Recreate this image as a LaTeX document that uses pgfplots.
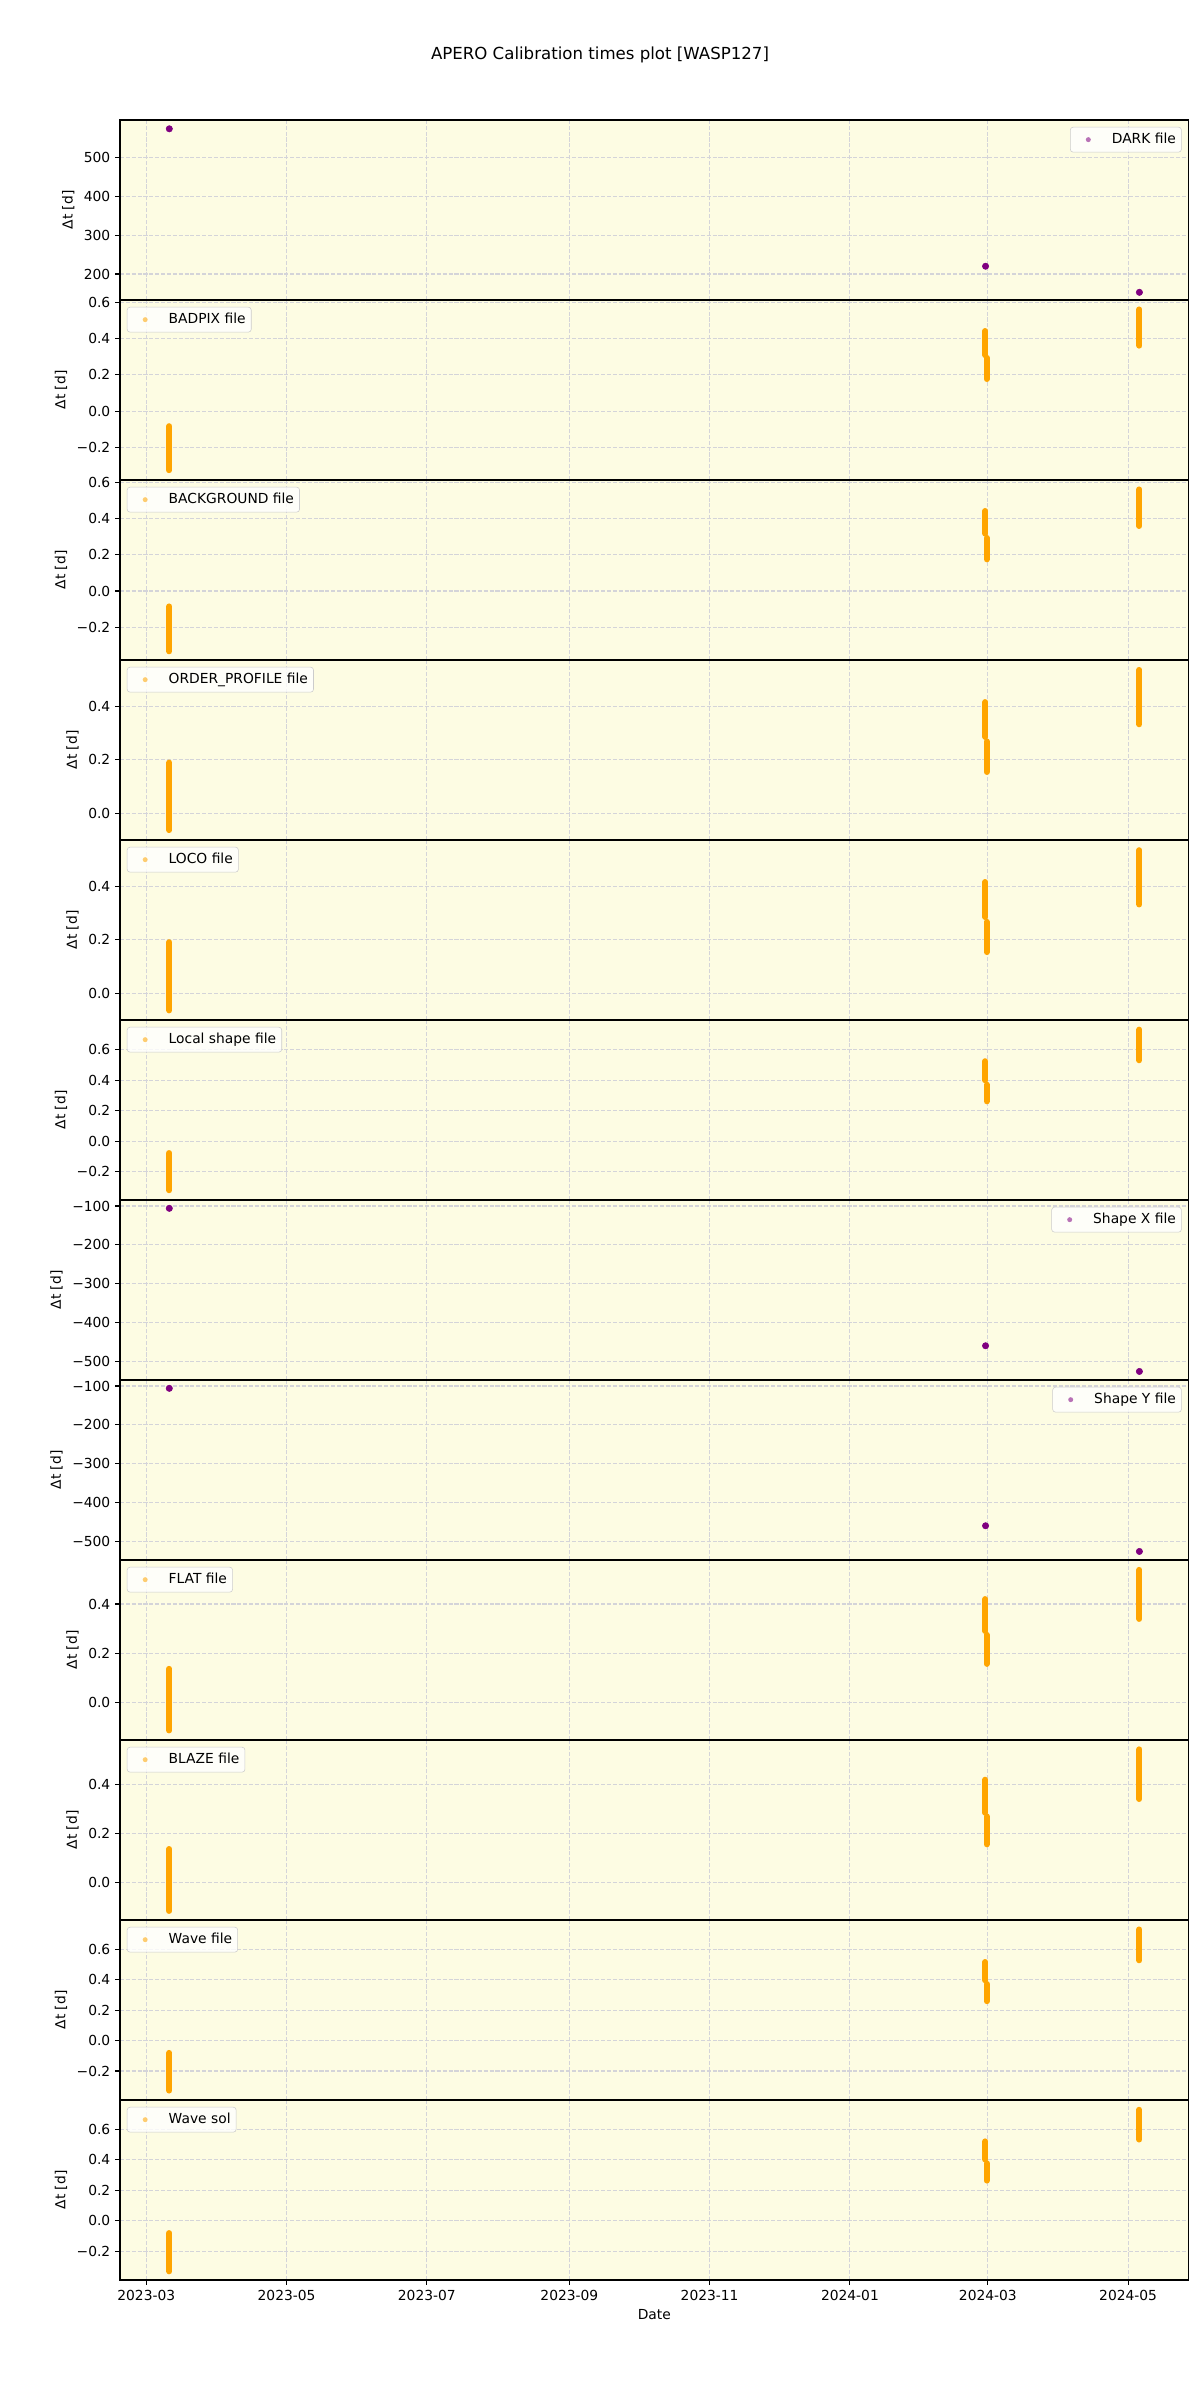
\documentclass[border=0pt]{standalone}
\usepackage{fontspec}
\setmainfont{DejaVu Sans}
\usepackage{pgfplots}
\pgfplotsset{compat=1.18}
\definecolor{bgC}{RGB}{253,252,227}
\definecolor{gridC}{RGB}{212,212,217}
\definecolor{orC}{RGB}{255,165,0}
\definecolor{puC}{RGB}{128,0,128}
\pgfplotsset{
  panel/.style={
    scale only axis, width=10.686in, height=1.8in,
    xmin=-11.44, xmax=453.3,
    axis background/.style={fill=bgC},
    xtick={0,61,122,184,245,306,366,427},
    grid=major,
    major grid style={draw=gridC, line width=0.8pt, dash pattern=on 2.96pt off 1.28pt},
    tick align=outside, tick pos=left,
    major tick length=3.5pt,
    xtick style={black, line width=0.8pt},
    ytick style={black, line width=0.8pt},
    axis line style={line width=0.8pt},
    ticklabel style={font=\fontsize{10}{12}\selectfont},
    ylabel={Δt [d]},
    label style={font=\fontsize{10}{12}\selectfont},
    anchor=north west,
    legend style={font=\fontsize{10}{12}\selectfont, draw=black!20, rounded corners=2pt,
      fill=white, fill opacity=0.8, text opacity=1, draw opacity=1,
      inner xsep=3pt, inner ysep=3pt,
      nodes={inner sep=1pt, text height=7.5pt, text depth=2.5pt},
      cells={anchor=west}},
  },
  inner/.style={xticklabels={}, xtick style={draw=none}},
  legleft/.style={legend style={at={(0,1)}, anchor=north west, xshift=5pt, yshift=-5pt}},
  legright/.style={legend style={at={(1,1)}, anchor=north east, xshift=-5pt, yshift=-5pt}},
  bar/.style={color=orC, line width=4.3pt, line cap=round, forget plot},
  dots/.style={only marks, mark=*, mark size=2.3pt, color=puC, mark options={draw=puC, fill=puC}, forget plot},
  ticksA/.style={ytick={-0.2,0,0.2,0.4,0.6}, yticklabels={−0.2,0.0,0.2,0.4,0.6}},
  ticksB/.style={ytick={0,0.2,0.4}, yticklabels={0.0,0.2,0.4}},
  ticksS/.style={ytick={-500,-400,-300,-200,-100}, yticklabels={−500,−400,−300,−200,−100}},
}
\newcommand{\orleg}[1]{\addlegendimage{legend image code/.code={\path[draw=none,fill=none] (0,-0.3em) rectangle (2.6em,0.3em); \fill[draw=none, fill=orC, fill opacity=0.55] (1em,0) circle (1.8pt);}}\addlegendentry{#1}}
\newcommand{\puleg}[1]{\addlegendimage{legend image code/.code={\path[draw=none,fill=none] (0,-0.3em) rectangle (2.6em,0.3em); \fill[draw=none, fill=puC, fill opacity=0.55] (1em,0) circle (1.8pt);}}\addlegendentry{#1}}
\begin{document}
\begin{tikzpicture}
\node[font=\fontsize{12}{14}\selectfont] at (4.8in,0.65in) {APERO Calibration times plot [WASP127]};

% 1 DARK
\begin{axis}[panel, inner, legright, at={(0in,0in)}, ymin=133.3, ymax=595.6,
  ytick={200,300,400,500}, yticklabels={200,300,400,500}]
\puleg{DARK file}
\addplot[dots] coordinates {(10.0,573) (365.0,220) (431.9,153)};
\end{axis}

% 2 BADPIX
\begin{axis}[panel, inner, legleft, at={(0in,-1.8in)}, ymin=-0.38, ymax=0.613, ticksA]
\orleg{BADPIX file}
\addplot[bar] coordinates {(10.0,-0.083) (10.0,-0.326)};
\addplot[bar] coordinates {(364.9,0.442) (364.9,0.309)};
\addplot[bar] coordinates {(365.5,0.294) (365.5,0.177)};
\addplot[bar] coordinates {(431.9,0.561) (431.9,0.361)};
\end{axis}

% 3 BACKGROUND
\begin{axis}[panel, inner, legleft, at={(0in,-3.6in)}, ymin=-0.381, ymax=0.613, ticksA]
\orleg{BACKGROUND file}
\addplot[bar] coordinates {(10.0,-0.085) (10.0,-0.333)};
\addplot[bar] coordinates {(364.9,0.442) (364.9,0.317)};
\addplot[bar] coordinates {(365.5,0.293) (365.5,0.175)};
\addplot[bar] coordinates {(431.9,0.561) (431.9,0.359)};
\end{axis}

% 4 ORDER_PROFILE
\begin{axis}[panel, inner, legleft, at={(0in,-5.4in)}, ymin=-0.1, ymax=0.572, ticksB]
\orleg{ORDER\_PROFILE file}
\addplot[bar] coordinates {(10.0,0.189) (10.0,-0.063)};
\addplot[bar] coordinates {(364.9,0.415) (364.9,0.285)};
\addplot[bar] coordinates {(365.5,0.268) (365.5,0.154)};
\addplot[bar] coordinates {(431.9,0.535) (431.9,0.332)};
\end{axis}

% 5 LOCO
\begin{axis}[panel, inner, legleft, at={(0in,-7.2in)}, ymin=-0.1, ymax=0.573, ticksB]
\orleg{LOCO file}
\addplot[bar] coordinates {(10.0,0.191) (10.0,-0.064)};
\addplot[bar] coordinates {(364.9,0.416) (364.9,0.285)};
\addplot[bar] coordinates {(365.5,0.267) (365.5,0.154)};
\addplot[bar] coordinates {(431.9,0.535) (431.9,0.332)};
\end{axis}

% 6 Local shape
\begin{axis}[panel, inner, legleft, at={(0in,-9.0in)}, ymin=-0.385, ymax=0.795, ticksA]
\orleg{Local shape file}
\addplot[bar] coordinates {(10.0,-0.077) (10.0,-0.321)};
\addplot[bar] coordinates {(364.9,0.525) (364.9,0.400)};
\addplot[bar] coordinates {(365.5,0.371) (365.5,0.262)};
\addplot[bar] coordinates {(431.9,0.732) (431.9,0.531)};
\end{axis}

% 7 Shape X
\begin{axis}[panel, inner, legright, at={(0in,-10.8in)}, ymin=-547, ymax=-84.6, ticksS]
\puleg{Shape X file}
\addplot[dots] coordinates {(10.0,-106) (365.0,-459) (431.9,-525)};
\end{axis}

% 8 Shape Y
\begin{axis}[panel, inner, legright, at={(0in,-12.6in)}, ymin=-547, ymax=-84.6, ticksS]
\puleg{Shape Y file}
\addplot[dots] coordinates {(10.0,-106) (365.0,-459) (431.9,-525)};
\end{axis}

% 9 FLAT
\begin{axis}[panel, inner, legleft, at={(0in,-14.4in)}, ymin=-0.154, ymax=0.579, ticksB]
\orleg{FLAT file}
\addplot[bar] coordinates {(10.0,0.136) (10.0,-0.115)};
\addplot[bar] coordinates {(364.9,0.420) (364.9,0.290)};
\addplot[bar] coordinates {(365.5,0.274) (365.5,0.156)};
\addplot[bar] coordinates {(431.9,0.539) (431.9,0.339)};
\end{axis}

% 10 BLAZE
\begin{axis}[panel, inner, legleft, at={(0in,-16.2in)}, ymin=-0.154, ymax=0.581, ticksB]
\orleg{BLAZE file}
\addplot[bar] coordinates {(10.0,0.136) (10.0,-0.117)};
\addplot[bar] coordinates {(364.9,0.419) (364.9,0.284)};
\addplot[bar] coordinates {(365.5,0.269) (365.5,0.155)};
\addplot[bar] coordinates {(431.9,0.543) (431.9,0.340)};
\end{axis}

% 11 Wave file
\begin{axis}[panel, inner, legleft, at={(0in,-18.0in)}, ymin=-0.391, ymax=0.793, ticksA]
\orleg{Wave file}
\addplot[bar] coordinates {(10.0,-0.081) (10.0,-0.329)};
\addplot[bar] coordinates {(364.9,0.517) (364.9,0.397)};
\addplot[bar] coordinates {(365.5,0.372) (365.5,0.259)};
\addplot[bar] coordinates {(431.9,0.731) (431.9,0.528)};
\end{axis}

% 12 Wave sol
\begin{axis}[panel, legleft, at={(0in,-19.8in)}, ymin=-0.39, ymax=0.794, ticksA,
  xticklabels={2023-03,2023-05,2023-07,2023-09,2023-11,2024-01,2024-03,2024-05},
  xlabel={Date}]
\orleg{Wave sol}
\addplot[bar] coordinates {(10.0,-0.081) (10.0,-0.333)};
\addplot[bar] coordinates {(364.9,0.522) (364.9,0.403)};
\addplot[bar] coordinates {(365.5,0.378) (365.5,0.264)};
\addplot[bar] coordinates {(431.9,0.730) (431.9,0.534)};
\end{axis}

\pgfresetboundingbox
\path[use as bounding box] (-1.2in,1.2in) rectangle (10.8in,-22.8in);
\end{tikzpicture}
\end{document}
